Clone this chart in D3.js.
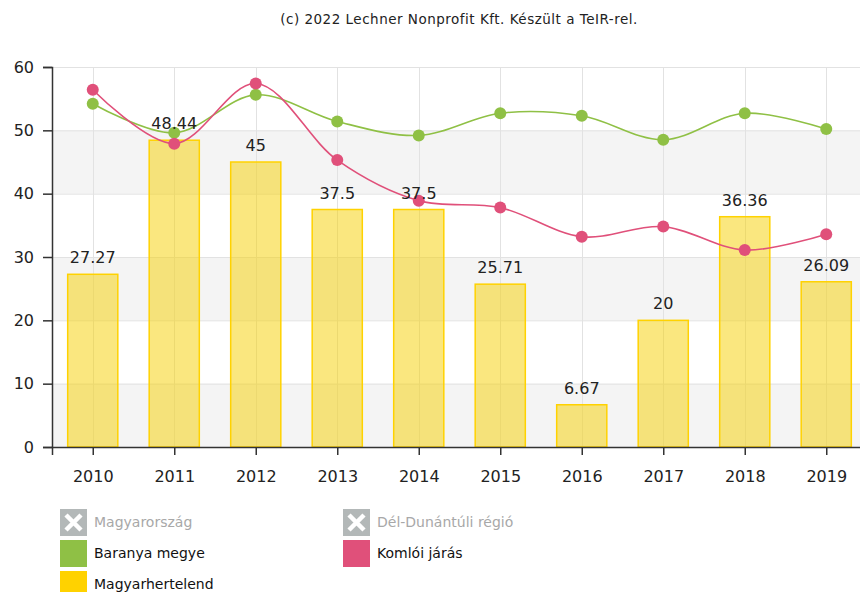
<!DOCTYPE html>
<html>
<head>
<meta charset="utf-8">
<script src="https://cdn.jsdelivr.net/npm/d3@7"></script>
<style>
  html, body { margin: 0; padding: 0; background: #fff; }
  svg { display: block; font-family: "DejaVu Sans", Verdana, sans-serif; }
</style>
</head>
<body>
<svg id="chart" width="860" height="592"></svg>
<script>
const years = ["2010","2011","2012","2013","2014","2015","2016","2017","2018","2019"];
const magyarhertelend = [27.27, 48.44, 45, 37.5, 37.5, 25.71, 6.67, 20, 36.36, 26.09];
const baranya = [54.2, 49.6, 55.6, 51.4, 49.2, 52.7, 52.3, 48.5, 52.7, 50.2];
const komloi = [56.4, 47.9, 57.4, 45.3, 38.9, 37.8, 33.2, 34.8, 31.1, 33.6];
const yTicks = [0, 10, 20, 30, 40, 50, 60];
const titleText = "(c) 2022 Lechner Nonprofit Kft. Készült a TeIR-rel.";
const legendItems = [
  {name: "Magyarország", color: "#b3b8b8", disabled: true},
  {name: "Dél-Dunántúli régió", color: "#b3b8b8", disabled: true},
  {name: "Baranya megye", color: "#8fc045", disabled: false},
  {name: "Komlói járás", color: "#e0507a", disabled: false},
  {name: "Magyarhertelend", color: "#ffd200", disabled: false}
];

const svg = d3.select("#chart");
const pLeft = 52, pRight = 867, pTop = 67, pBottom = 447;

const x = d3.scaleBand().domain(years).range([pLeft, pRight]).paddingInner(0.385).paddingOuter(0.1925);
const xc = d3.scalePoint().domain(years).range([pLeft, pRight]).padding(0.5);
const y = d3.scaleLinear().domain([0, 60]).range([pBottom, pTop]);

// title
svg.append("text").attr("x", 459).attr("y", 24).attr("text-anchor", "middle")
  .attr("font-size", 13.5).attr("letter-spacing", 0.5).attr("fill", "#222").text(titleText);

// bands
const g = svg.append("g");
for (let i = 0; i < yTicks.length - 1; i++) {
  if (i % 2 === 0) {
    g.append("rect").attr("x", pLeft).attr("width", pRight - pLeft)
      .attr("y", y(yTicks[i + 1])).attr("height", y(yTicks[i]) - y(yTicks[i + 1]))
      .attr("fill", "#f4f4f4");
  }
}
// horizontal gridlines
g.selectAll("line.h").data(yTicks).join("line")
  .attr("x1", pLeft).attr("x2", pRight)
  .attr("y1", d => y(d) + 0.5).attr("y2", d => y(d) + 0.5)
  .attr("stroke", "#e2e2e2").attr("stroke-width", 1);
// vertical gridlines
g.selectAll("line.v").data(years).join("line")
  .attr("x1", d => Math.round(xc(d)) + 0.5).attr("x2", d => Math.round(xc(d)) + 0.5)
  .attr("y1", pTop).attr("y2", pBottom)
  .attr("stroke", "#e2e2e2").attr("stroke-width", 1);

// bars
svg.append("g").selectAll("rect").data(years).join("rect")
  .attr("x", d => x(d)).attr("width", x.bandwidth())
  .attr("y", (d, i) => y(magyarhertelend[i])).attr("height", (d, i) => pBottom - y(magyarhertelend[i]))
  .attr("fill", "#f5cf00").attr("fill-opacity", 0.5)
  .attr("stroke", "#ffd200").attr("stroke-width", 1.5);

// lines
const line = d3.line().x(d => xc(d.year)).y(d => y(d.v)).curve(d3.curveCatmullRom.alpha(0.5));
function drawSeries(vals, color) {
  const data = years.map((yr, i) => ({year: yr, v: vals[i]}));
  svg.append("path").datum(data).attr("d", line)
    .attr("fill", "none").attr("stroke", color).attr("stroke-width", 1.6);
  svg.append("g").selectAll("circle").data(data).join("circle")
    .attr("cx", d => xc(d.year)).attr("cy", d => y(d.v)).attr("r", 6)
    .attr("fill", color);
}
drawSeries(baranya, "#8fc045");
drawSeries(komloi, "#e0507a");

// bar labels
svg.append("g").selectAll("text").data(years).join("text")
  .attr("x", d => xc(d)).attr("y", (d, i) => y(magyarhertelend[i]) - 11)
  .attr("text-anchor", "middle").attr("font-size", 16).attr("fill", "#222")
  .text((d, i) => magyarhertelend[i]);

// axes
const yAxis = svg.append("g").attr("transform", `translate(${pLeft},0)`)
  .call(d3.axisLeft(y).tickValues(yTicks).tickSize(9).tickPadding(9));
yAxis.select(".domain").attr("stroke", "#333").attr("stroke-width", 1.5);
yAxis.selectAll(".tick line").attr("stroke", "#333").attr("stroke-width", 1.5);
yAxis.selectAll("text").attr("font-size", 16).attr("fill", "#222").attr("font-family", "DejaVu Sans");

const xAxis = svg.append("g").attr("transform", `translate(0,${pBottom})`)
  .call(d3.axisBottom(xc).tickSize(8).tickPadding(16));
xAxis.select(".domain").attr("stroke", "#333").attr("stroke-width", 1.5);
xAxis.selectAll(".tick line").attr("stroke", "#333").attr("stroke-width", 1.5);
xAxis.selectAll("text").attr("font-size", 16).attr("fill", "#222").attr("font-family", "DejaVu Sans");

// legend
const lg = svg.append("g");
legendItems.forEach((it, i) => {
  const col = i < 4 ? i % 2 : 0;
  const row = i < 4 ? Math.floor(i / 2) : 2;
  const lx = col === 0 ? 60 : 343;
  const ly = 509 + row * 31;
  lg.append("rect").attr("x", lx).attr("y", ly).attr("width", 27).attr("height", 27).attr("fill", it.color);
  if (it.disabled) {
    lg.append("path")
      .attr("d", `M${lx + 6},${ly + 6}L${lx + 21},${ly + 21}M${lx + 21},${ly + 6}L${lx + 6},${ly + 21}`)
      .attr("stroke", "#fff").attr("stroke-width", 4.5);
  }
  lg.append("text").attr("x", lx + 34).attr("y", ly + 18)
    .attr("font-size", 14).attr("fill", it.disabled ? "#a8a8a8" : "#111")
    .text(it.name);
});
</script>
</body>
</html>
